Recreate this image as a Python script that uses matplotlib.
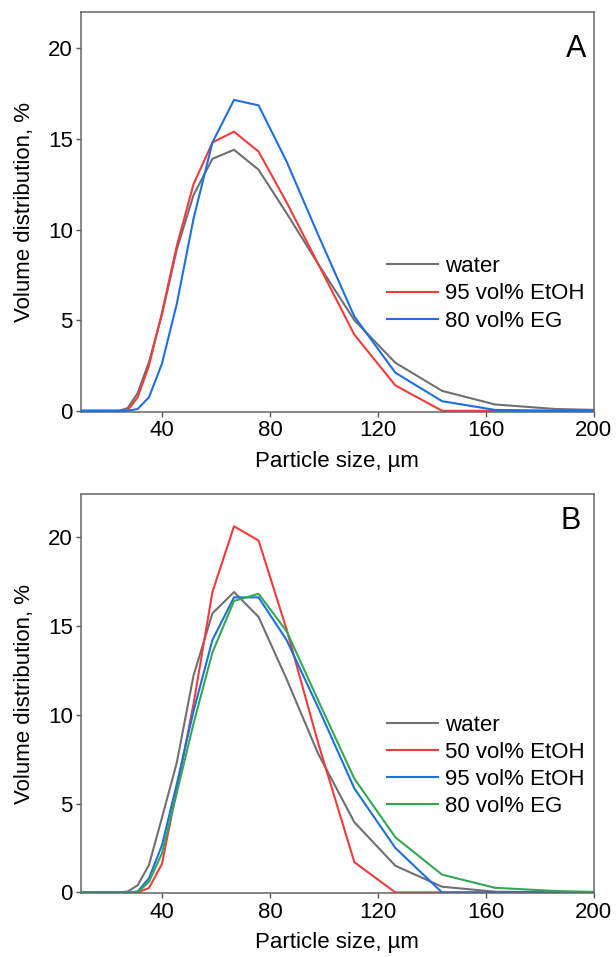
import matplotlib
matplotlib.use("Agg")
import matplotlib.pyplot as plt

plt.rcParams['font.family'] = ['Liberation Sans', 'DejaVu Sans']

# particle size bins (µm)
size = [10, 24.0, 27.3, 31.0, 35.2, 40.0, 45.5, 51.7, 58.7, 66.7, 75.8, 86.2,
        97.9, 111.3, 126.5, 143.8, 163.4, 185.7, 200]

# Panel A
a_water = [0, 0, 0.15, 0.98, 2.7, 5.3, 8.9, 11.9, 13.9, 14.4, 13.3, 10.9,
           8.1, 5.0, 2.65, 1.1, 0.35, 0.1, 0.05]
a_etoh95 = [0, 0, 0.02, 0.75, 2.5, 5.4, 9.1, 12.5, 14.8, 15.4, 14.3, 11.5,
            8.1, 4.2, 1.4, 0, 0, 0, 0]
a_eg80 = [0, 0, 0, 0.1, 0.75, 2.6, 5.9, 10.6, 14.8, 17.15, 16.85, 13.75,
          9.7, 5.2, 2.1, 0.53, 0.05, 0, 0]

# Panel B
b_water = [0, 0, 0.05, 0.4, 1.55, 4.2, 7.3, 12.2, 15.7, 16.9, 15.5, 12.0,
           7.8, 3.95, 1.5, 0.32, 0.04, 0, 0]
b_etoh50 = [0, 0, 0, 0, 0.25, 1.6, 5.8, 10.6, 16.9, 20.6, 19.8, 14.8,
            8.4, 1.7, 0, 0, 0, 0, 0]
b_etoh95 = [0, 0, 0, 0.05, 0.8, 2.65, 6.1, 10.2, 14.2, 16.6, 16.6, 14.2,
            10.4, 5.85, 2.5, 0, 0, 0, 0]
b_eg80 = [0, 0, 0, 0, 0.6, 2.2, 5.6, 9.5, 13.5, 16.4, 16.8, 14.7,
          10.8, 6.4, 3.1, 1.0, 0.26, 0.08, 0.03]

xticks = [40, 80, 120, 160, 200]
yticks = [0, 5, 10, 15, 20]

c_gray = '#707070'
c_red = '#f03c3c'
c_blue = '#1f6fe0'
c_green = '#33a852'

W, H = 616, 957
fig = plt.figure(figsize=(W / 100, H / 100), dpi=100)


def make_ax(top, bottom):
    left, right = 81, 593.7
    return fig.add_axes([left / W, (H - bottom) / H, (right - left) / W, (bottom - top) / H])


axA = make_ax(12, 411.7)
axB = make_ax(494.3, 893.3)

lw = 1.5
axA.plot(size, a_water, color=c_gray, lw=lw, label='water')
axA.plot(size, a_etoh95, color=c_red, lw=lw, label='95 vol% EtOH')
axA.plot(size, a_eg80, color=c_blue, lw=lw, label='80 vol% EG')

axB.plot(size, b_water, color=c_gray, lw=lw, label='water')
axB.plot(size, b_etoh50, color=c_red, lw=lw, label='50 vol% EtOH')
axB.plot(size, b_etoh95, color=c_blue, lw=lw, label='95 vol% EtOH')
axB.plot(size, b_eg80, color=c_green, lw=lw, label='80 vol% EG')

fs = 16
for ax, ymax, letter, lx, ly, leg_y in [(axA, 22.0, 'A', 0.9864, 0.888, 0.389),
                                        (axB, 22.4, 'B', 0.9746, 0.913, 0.448)]:
    ax.set_xlim(10, 200)
    ax.set_ylim(-0.05, ymax)
    ax.set_xticks(xticks)
    ax.set_yticks(yticks)
    ax.tick_params(direction='out', length=3.5, width=1, color='#555555',
                   labelsize=fs, pad=2.5)
    for s in ax.spines.values():
        s.set_color('#666666')
        s.set_linewidth(1.1)
    ax.set_xlabel('Particle size, µm', fontsize=fs, labelpad=7)
    ax.set_ylabel('Volume distribution, %', fontsize=fs, labelpad=9)
    ax.text(lx, ly, letter, transform=ax.transAxes, ha='right', va='baseline', fontsize=22)
    ax.legend(loc='upper left', bbox_to_anchor=(0.596, leg_y), frameon=False,
              fontsize=fs, handlelength=2.3, handletextpad=0.35,
              labelspacing=0.28, borderaxespad=0, borderpad=0)

fig.savefig('out.png', dpi=100)
